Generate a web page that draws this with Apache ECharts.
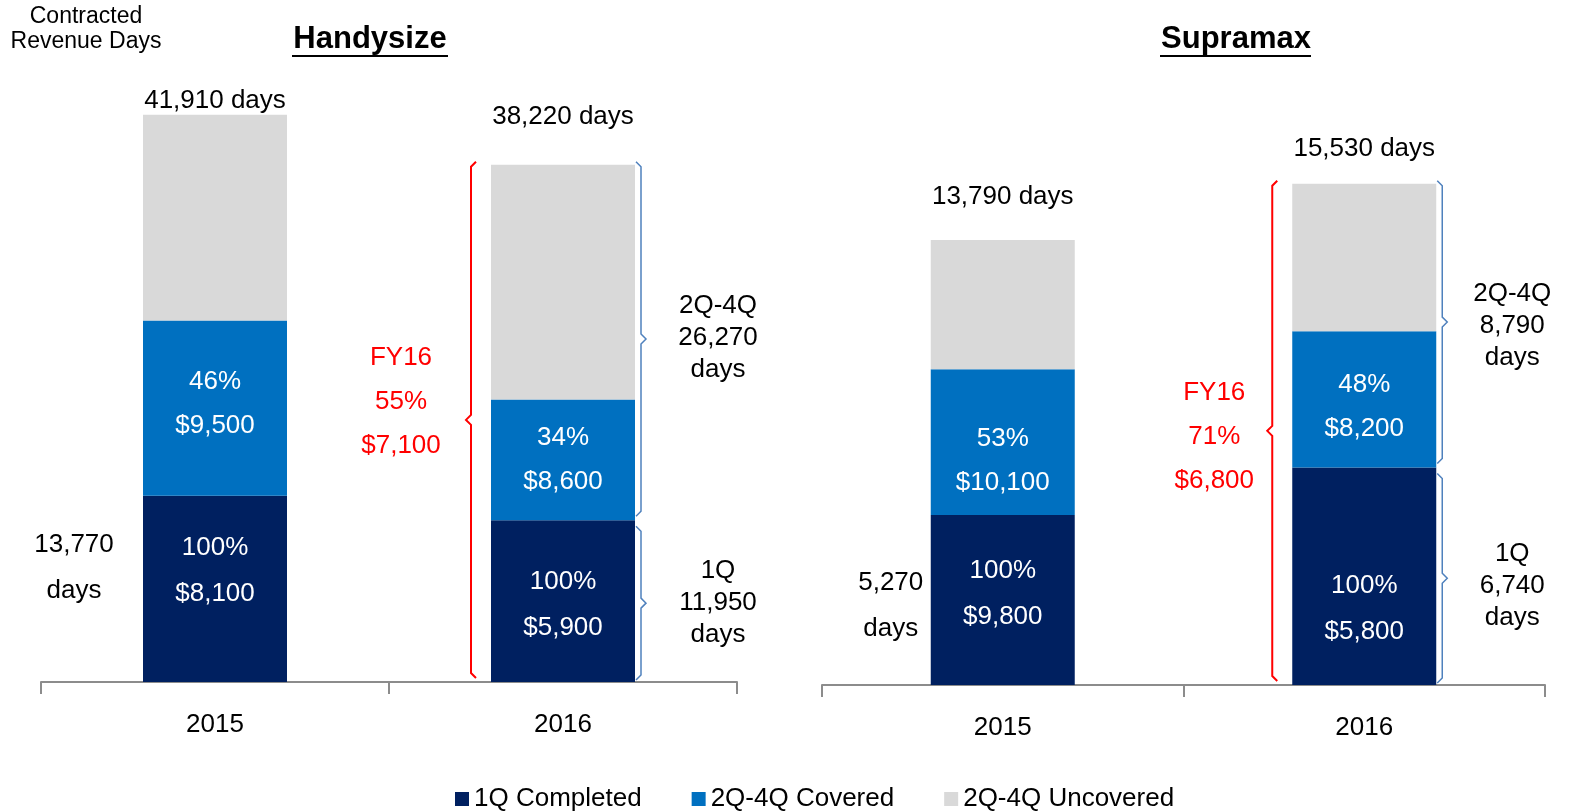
<!DOCTYPE html>
<html>
<head>
<meta charset="utf-8">
<script src="https://cdn.jsdelivr.net/npm/echarts@6/dist/echarts.min.js"></script>
<style>
  html, body { margin: 0; padding: 0; background: #fff; }
  #main { width: 1571px; height: 811px; }
</style>
</head>
<body>
<div id="main"></div>
<script>
const years = ['2015', '2016']
const seriesNames = ['1Q Completed', '2Q-4Q Covered', '2Q-4Q Uncovered']

// Handysize
const handyCompleted = [13770, 11950]
const handyCovered = [12944, 8932]
const handyUncovered = [15196, 17338]
const handyTotalLabels = ['41,910 days', '38,220 days']
const handyCompletedRates = ['$8,100', '$5,900']
const handyCoveredPcts = ['46%', '34%']
const handyCoveredRates = ['$9,500', '$8,600']
const handyFy16 = ['FY16', '55%', '$7,100']
const handy1Q = ['1Q', '11,950', 'days']
const handyRest = ['2Q-4Q', '26,270', 'days']
const handyPrev1Q = ['13,770', 'days']

// Supramax
const supraCompleted = [5270, 6740]
const supraCovered = [4516, 4219]
const supraUncovered = [4004, 4571]
const supraTotalLabels = ['13,790 days', '15,530 days']
const supraCompletedRates = ['$9,800', '$5,800']
const supraCoveredPcts = ['53%', '48%']
const supraCoveredRates = ['$10,100', '$8,200']
const supraFy16 = ['FY16', '71%', '$6,800']
const supra1Q = ['1Q', '6,740', 'days']
const supraRest = ['2Q-4Q', '8,790', 'days']
const supraPrev1Q = ['5,270', 'days']

const FONT = '"Liberation Sans", Arial, sans-serif'
const NAVY = '#002060'
const BLUE = '#0070c0'
const GREY = '#d9d9d9'
const RED = '#ff0000'
const BRACE_BLUE = '#4f81bd'
const AXIS_GREY = '#8c8c8c'

const handy = {
  completed: handyCompleted, covered: handyCovered, uncovered: handyUncovered,
  totals: handyTotalLabels, completedRates: handyCompletedRates,
  coveredPcts: handyCoveredPcts, coveredRates: handyCoveredRates,
  fy: handyFy16, q1: handy1Q, rest: handyRest, prev: handyPrev1Q
}
const supra = {
  completed: supraCompleted, covered: supraCovered, uncovered: supraUncovered,
  totals: supraTotalLabels, completedRates: supraCompletedRates,
  coveredPcts: supraCoveredPcts, coveredRates: supraCoveredRates,
  fy: supraFy16, q1: supra1Q, rest: supraRest, prev: supraPrev1Q
}

// label nudges (pixels) per bar, layout only
const handyNudge = { completedDy: [-18, 4], coveredDy: [-4, 0], totalDy: [17, -17] }
const supraNudge = { completedDy: [-6, 33], coveredDy: [19, 7], totalDy: [-12, -4] }

function withNudge(values, dy) {
  return values.map((v, i) => ({ value: v, label: { offset: [0, dy[i]] } }))
}

function barSeries(idx, d, n) {
  const base = { type: 'bar', stack: 'days' + idx, xAxisIndex: idx, yAxisIndex: idx, barWidth: 144 }
  const inner = { show: true, position: 'inside', color: '#fff', fontSize: 26, fontFamily: FONT }
  return [
    {
      ...base, name: seriesNames[0], data: withNudge(d.completed, n.completedDy), itemStyle: { color: NAVY },
      label: { ...inner, lineHeight: 46, formatter: p => '100%\n' + d.completedRates[p.dataIndex] }
    },
    {
      ...base, name: seriesNames[1], data: withNudge(d.covered, n.coveredDy), itemStyle: { color: BLUE },
      label: { ...inner, lineHeight: 44, formatter: p => d.coveredPcts[p.dataIndex] + '\n' + d.coveredRates[p.dataIndex] }
    },
    {
      ...base, name: seriesNames[2], data: withNudge(d.uncovered, n.totalDy), itemStyle: { color: GREY },
      label: {
        show: true, position: 'top', distance: 18, color: '#000', fontSize: 26, fontFamily: FONT,
        formatter: p => d.totals[p.dataIndex]
      }
    }
  ]
}

// curly brace: dir 1 = "{", dir -1 = "}"
function brace(x, y0, y1, dir, color, width) {
  const w = 5 * dir
  const ym = (y0 + y1) / 2
  return {
    type: 'polyline',
    shape: { points: [[x + w, y0], [x, y0 + 5], [x, ym - 5], [x - w, ym], [x, ym + 5], [x, y1 - 5], [x + w, y1]] },
    style: { stroke: color, lineWidth: width, fill: null }
  }
}

function noteText(text, x, y, color, lineHeight) {
  return {
    type: 'text',
    style: { text, x, y, fill: color, fontSize: 26, fontFamily: FONT, lineHeight, align: 'center', verticalAlign: 'middle' }
  }
}

// o: pixel nudges for the side notes of each panel
function notesSeries(idx, d, o) {
  const total = d.completed.map((v, i) => v + d.covered[i] + d.uncovered[i])
  const data = [
    [1, 0, total[1], 0],
    [1, 0, d.completed[1], 1],
    [1, d.completed[1], total[1], 2],
    [0, 0, d.completed[0], 3]
  ]
  return {
    type: 'custom', name: 'notes' + idx, xAxisIndex: idx, yAxisIndex: idx, data,
    clip: false, silent: true, z: 5, encode: { x: 0, y: [1, 2] },
    renderItem: (params, api) => {
      const cat = api.value(0)
      const kind = api.value(3)
      const lo = api.coord([cat, api.value(1)])
      const hi = api.coord([cat, api.value(2)])
      const cx = lo[0], yb = lo[1], yt = hi[1]
      const half = 72
      if (kind === 0) {
        const x = cx - half - 20
        return { type: 'group', children: [
          brace(x, yt - 3, yb - 4, 1, RED, 2),
          noteText(d.fy.join('\n'), x - o.fyGap, (yt + yb) / 2 + o.fyDy, RED, 44)
        ] }
      }
      if (kind === 1) {
        const x = cx + half + 6
        return { type: 'group', children: [
          brace(x, yt + 6, yb - 2, -1, BRACE_BLUE, 1.5),
          noteText(d.q1.join('\n'), x + o.restGap, (yt + yb) / 2 + o.q1Dy, '#000', 32)
        ] }
      }
      if (kind === 2) {
        const x = cx + half + 6
        return { type: 'group', children: [
          brace(x, yt - 3, yb - 4, -1, BRACE_BLUE, 1.5),
          noteText(d.rest.join('\n'), x + o.restGap, (yt + yb) / 2 + o.restDy, '#000', 32)
        ] }
      }
      return noteText(d.prev.join('\n'), cx - half - o.prevGap, (yt + yb) / 2 + o.prevDy, '#000', 46)
    }
  }
}

function xAxisFor(idx) {
  return {
    type: 'category', gridIndex: idx, data: years,
    axisLine: { show: true, lineStyle: { color: AXIS_GREY, width: 2 } },
    axisTick: { show: true, alignWithLabel: false, interval: 0, length: 12, lineStyle: { color: AXIS_GREY, width: 2 } },
    axisLabel: { color: '#000', fontSize: 26, fontFamily: FONT, margin: 30 }
  }
}

function yAxisFor(idx, max) {
  return { type: 'value', gridIndex: idx, min: 0, max, show: false, splitLine: { show: false } }
}

const chart = echarts.init(document.getElementById('main'), null, { renderer: 'canvas' })

chart.setOption({
  animation: false,
  textStyle: { fontFamily: FONT },
  grid: [
    { left: 41, width: 696, top: 73, bottom: 129 },
    { left: 822, width: 723, top: 104, bottom: 126 }
  ],
  xAxis: [xAxisFor(0), xAxisFor(1)],
  yAxis: [yAxisFor(0, 45000), yAxisFor(1, 18000)],
  legend: {
    data: seriesNames, left: 450, top: 781, icon: 'rect',
    itemWidth: 14, itemHeight: 14, itemGap: 50,
    textStyle: { color: '#000', fontSize: 26, fontFamily: FONT }
  },
  graphic: [
    { type: 'text', style: { text: 'Contracted\nRevenue Days', x: 86, y: 29, fill: '#000', fontSize: 23, lineHeight: 25, fontFamily: FONT, align: 'center', verticalAlign: 'middle' } },
    { type: 'text', style: { text: 'Handysize', x: 370, y: 39, fill: '#000', fontSize: 31, fontWeight: 'bold', fontFamily: FONT, align: 'center', verticalAlign: 'middle' } },
    { type: 'line', shape: { x1: 292, y1: 56, x2: 448, y2: 56 }, style: { stroke: '#000', lineWidth: 2 } },
    { type: 'text', style: { text: 'Supramax', x: 1236, y: 39, fill: '#000', fontSize: 31, fontWeight: 'bold', fontFamily: FONT, align: 'center', verticalAlign: 'middle' } },
    { type: 'line', shape: { x1: 1160, y1: 56, x2: 1311, y2: 56 }, style: { stroke: '#000', lineWidth: 2 } }
  ],
  series: [
    ...barSeries(0, handy, handyNudge),
    ...barSeries(1, supra, supraNudge),
    notesSeries(0, handy, { prevGap: 69, prevDy: -21, fyGap: 70, fyDy: -22, restGap: 77, restDy: -5, q1Dy: 2 }),
    notesSeries(1, supra, { prevGap: 40, prevDy: 6, fyGap: 58, fyDy: 2, restGap: 70, restDy: 0, q1Dy: 10 })
  ]
})
</script>
</body>
</html>
